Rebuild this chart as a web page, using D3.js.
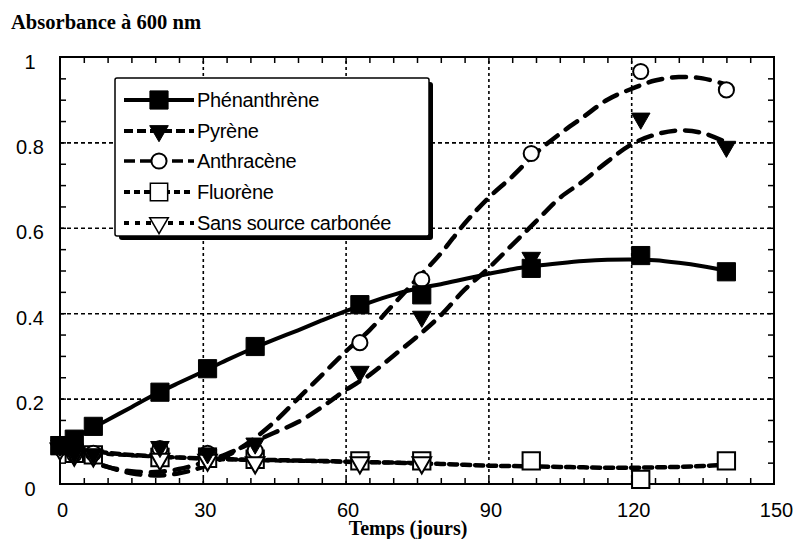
<!DOCTYPE html>
<html><head><meta charset="utf-8">
<script src="https://cdn.jsdelivr.net/npm/d3@7"></script>
<style>body{margin:0;background:#fff}svg{display:block}</style>
</head><body>
<script>
// ---- data ----
const days = [0, 3, 7, 21, 31, 41, 63, 76, 99, 122, 140];
const phenanthrene = [0.09, 0.105, 0.135, 0.215, 0.27, 0.322, 0.42, 0.443, 0.505, 0.535, 0.497];
const pyrene = [0.09, 0.072, 0.07, 0.087, 0.072, 0.095, 0.263, 0.392, 0.53, 0.856, 0.79];
const anthracene = [0.085, 0.07, 0.072, 0.083, 0.072, 0.078, 0.331, 0.479, 0.774, 0.966, 0.923];
const fluorene = [0.09, 0.072, 0.068, 0.062, 0.06, 0.058, 0.054, 0.054, 0.054, 0.011, 0.054];
const sansDays = [0, 3, 7, 21, 31, 41, 63, 76];
const sansSource = [0.082, 0.068, 0.066, 0.058, 0.056, 0.05, 0.05, 0.05];

// fitted curves (every 5 days)
const fitDays = [0,5,10,15,20,25,30,35,40,45,50,55,60,65,70,75,80,85,90,95,100,105,110,115,120,125,130,135,140];
const phenFit = [0.085,0.12,0.15,0.18,0.21,0.237,0.263,0.29,0.315,0.338,0.36,0.383,0.405,0.425,0.443,0.458,0.468,0.48,0.492,0.503,0.511,0.517,0.522,0.525,0.526,0.524,0.518,0.51,0.5];
const pyrFit = [0.09,0.06,0.04,0.03,0.028,0.035,0.05,0.07,0.095,0.12,0.145,0.18,0.22,0.255,0.3,0.345,0.395,0.455,0.505,0.56,0.615,0.67,0.71,0.755,0.795,0.818,0.828,0.822,0.8];
const anthFit = [0.09,0.06,0.04,0.025,0.02,0.025,0.04,0.065,0.1,0.145,0.2,0.255,0.31,0.36,0.42,0.48,0.54,0.61,0.67,0.72,0.775,0.82,0.86,0.9,0.925,0.945,0.953,0.95,0.935];
const fluoFit = [0.09,0.08,0.073,0.068,0.065,0.062,0.06,0.058,0.057,0.056,0.055,0.054,0.052,0.051,0.05,0.048,0.047,0.045,0.043,0.042,0.041,0.04,0.039,0.038,0.038,0.039,0.04,0.042,0.045];
const sansFitDays = [0,5,10,15,20,25,30,35,40,45,50,55,60,65,70,75];
const sansFit = [0.08,0.074,0.07,0.067,0.064,0.062,0.06,0.058,0.056,0.055,0.054,0.053,0.052,0.051,0.05,0.05];

const xTicks = [0, 30, 60, 90, 120, 150];
const yTicks = [0, 0.2, 0.4, 0.6, 0.8, 1];
const yTickLabels = ["0", "0.2", "0.4", "0.6", "0.8", "1"];
const legendLabels = ["Phénanthrène", "Pyrène", "Anthracène", "Fluorène", "Sans source carbonée"];

// ---- drawing ----
const W = 796, H = 539;
const svg = d3.select("body").append("svg").attr("width", W).attr("height", H);
const x = d3.scaleLinear().domain([0, 150]).range([60, 774]);
const y = d3.scaleLinear().domain([0, 1]).range([484, 57]);

// grid
const grid = svg.append("g");
grid.append("g").attr("transform", `translate(0,${y(0)})`)
  .call(d3.axisBottom(x).tickValues([30,60,90,120]).tickSize(-(y(0)-y(1))).tickFormat(""))
  .call(g => g.select(".domain").remove())
  .call(g => g.selectAll("line").attr("stroke", "#000").attr("stroke-width", 1.6).attr("stroke-dasharray", "3,3"));
grid.append("g").attr("transform", `translate(${x(0)},0)`)
  .call(d3.axisLeft(y).tickValues([0.2,0.4,0.6,0.8]).tickSize(-(x(150)-x(0))).tickFormat(""))
  .call(g => g.select(".domain").remove())
  .call(g => g.selectAll("line").attr("stroke", "#000").attr("stroke-width", 1.6).attr("stroke-dasharray", "4,3"));

// minor ticks (inward)
const minorX = d3.range(5, 150, 5);
const minorY = d3.range(0.05, 1, 0.05);
function styleAxis(g){ g.select(".domain").remove(); g.selectAll("line").attr("stroke","#000").attr("stroke-width",1.5); }
svg.append("g").attr("transform", `translate(0,${y(0)})`).call(d3.axisBottom(x).tickValues(minorX).tickSize(-6).tickFormat("")).call(styleAxis);
svg.append("g").attr("transform", `translate(0,${y(1)})`).call(d3.axisTop(x).tickValues(minorX).tickSize(-6).tickFormat("")).call(styleAxis);
svg.append("g").attr("transform", `translate(${x(0)},0)`).call(d3.axisLeft(y).tickValues(minorY).tickSize(-6).tickFormat("")).call(styleAxis);
svg.append("g").attr("transform", `translate(${x(150)},0)`).call(d3.axisRight(y).tickValues(minorY).tickSize(-6).tickFormat("")).call(styleAxis);

// frame
svg.append("rect").attr("x", x(0)).attr("y", y(1)).attr("width", x(150)-x(0)).attr("height", y(0)-y(1))
  .attr("fill", "none").attr("stroke", "#000").attr("stroke-width", 2);

// tick labels
const tickFont = "'Liberation Sans', Arial, Helvetica, sans-serif";
svg.append("g").attr("transform", `translate(0,${y(0)})`)
  .call(d3.axisBottom(x).tickValues(xTicks).tickSize(0).tickPadding(19).tickFormat(d3.format("d")))
  .call(g => g.select(".domain").remove())
  .call(g => g.selectAll("text").attr("font-family", tickFont).attr("font-size", 20).attr("fill", "#000").attr("dx", 2));
svg.append("g").attr("transform", `translate(30,0)`)
  .call(d3.axisLeft(y).tickValues(yTicks).tickSize(0).tickPadding(0).tickFormat((d,i) => yTickLabels[i]))
  .call(g => g.select(".domain").remove())
  .call(g => g.selectAll("text").attr("font-family", tickFont).attr("font-size", 20).attr("fill", "#000")
      .attr("text-anchor", "middle").attr("dy", "0.55em"));

// titles
svg.append("text").attr("x", 11).attr("y", 29).attr("font-family", "'Liberation Serif', 'Times New Roman', serif")
  .attr("font-weight", "bold").attr("font-size", 20).attr("textLength", 190).attr("lengthAdjust","spacingAndGlyphs").text("Absorbance à 600 nm");
svg.append("text").attr("x", 408).attr("y", 535).attr("text-anchor", "middle").attr("font-family", "'Liberation Serif', 'Times New Roman', serif")
  .attr("font-weight", "bold").attr("font-size", 20).text("Temps (jours)");

// curves
const line = d3.line().x(d => x(d[0])).y(d => y(d[1])).curve(d3.curveCatmullRom);
const curves = [
  {dx: fitDays, v: phenFit, dash: null, w: 4},
  {dx: fitDays, v: pyrFit, dash: "14,10", w: 4.5},
  {dx: fitDays, v: anthFit, dash: "14,10", w: 4.5},
  {dx: fitDays, v: fluoFit, dash: "8,5", w: 4.5},
  {dx: sansFitDays, v: sansFit, dash: "5,7", w: 4}
];
curves.forEach(c => {
  svg.append("path").datum(c.dx.map((d,i) => [d, c.v[i]])).attr("d", line)
    .attr("fill", "none").attr("stroke", "#000").attr("stroke-width", c.w)
    .attr("stroke-dasharray", c.dash).attr("stroke-linecap", "round");
});

// markers
const symSquare = d3.symbol().type(d3.symbolSquare).size(330);
const symSquareOpen = d3.symbol().type(d3.symbolSquare).size(300);
const symCircle = d3.symbol().type(d3.symbolCircle).size(180);
const symTri = d3.symbol().type(d3.symbolTriangle).size(150);
function markers(dd, vals, path, fill, rot, sw) {
  svg.append("g").selectAll("path").data(vals).join("path")
    .attr("d", path)
    .attr("transform", (v,i) => `translate(${x(dd[i])},${y(v)})${rot ? " rotate(180)" : ""}`)
    .attr("fill", fill).attr("stroke", "#000").attr("stroke-width", sw);
}
markers(days, fluorene, symSquareOpen(), "#fff", false, 2);
markers(days, anthracene, symCircle(), "#fff", false, 2);
markers(sansDays, sansSource, symTri(), "#fff", true, 2);
markers(days, pyrene, symTri(), "#000", true, 1);
markers(days, phenanthrene, symSquare(), "#000", false, 1);

// legend
const lg = svg.append("g");
lg.append("rect").attr("x", 119).attr("y", 82).attr("width", 314).attr("height", 158).attr("rx", 3).attr("fill", "#000");
lg.append("rect").attr("x", 115).attr("y", 78).attr("width", 314).attr("height", 158).attr("rx", 2)
  .attr("fill", "#fff").attr("stroke", "#000").attr("stroke-width", 1.5);
const legY = [100, 131, 161, 192, 223];
const legStyles = [
  {dash: null, w: 4, sym: symSquare(), fill: "#000", rot: false, sw: 1},
  {dash: "9,4", w: 4, sym: symTri(), fill: "#000", rot: true, sw: 1},
  {dash: "11,5", w: 3.5, sym: symCircle(), fill: "#fff", rot: false, sw: 2},
  {dash: "6,4", w: 4, sym: symSquareOpen(), fill: "#fff", rot: false, sw: 1.5},
  {dash: "5,6", w: 4, sym: symTri(), fill: "#fff", rot: true, sw: 1.5}
];
legendLabels.forEach((lab, i) => {
  const s = legStyles[i], yy = legY[i];
  lg.append("line").attr("x1", 124).attr("x2", 194).attr("y1", yy).attr("y2", yy)
    .attr("stroke", "#000").attr("stroke-width", s.w).attr("stroke-dasharray", s.dash);
  lg.append("path").attr("d", s.sym).attr("transform", `translate(159,${yy})${s.rot ? " rotate(180)" : ""}`)
    .attr("fill", s.fill).attr("stroke", "#000").attr("stroke-width", s.sw);
  lg.append("text").attr("x", 197).attr("y", yy + 7).attr("font-family", tickFont).attr("font-size", 20)
    .attr("letter-spacing", "-0.3").text(lab);
});
</script>
</body></html>
